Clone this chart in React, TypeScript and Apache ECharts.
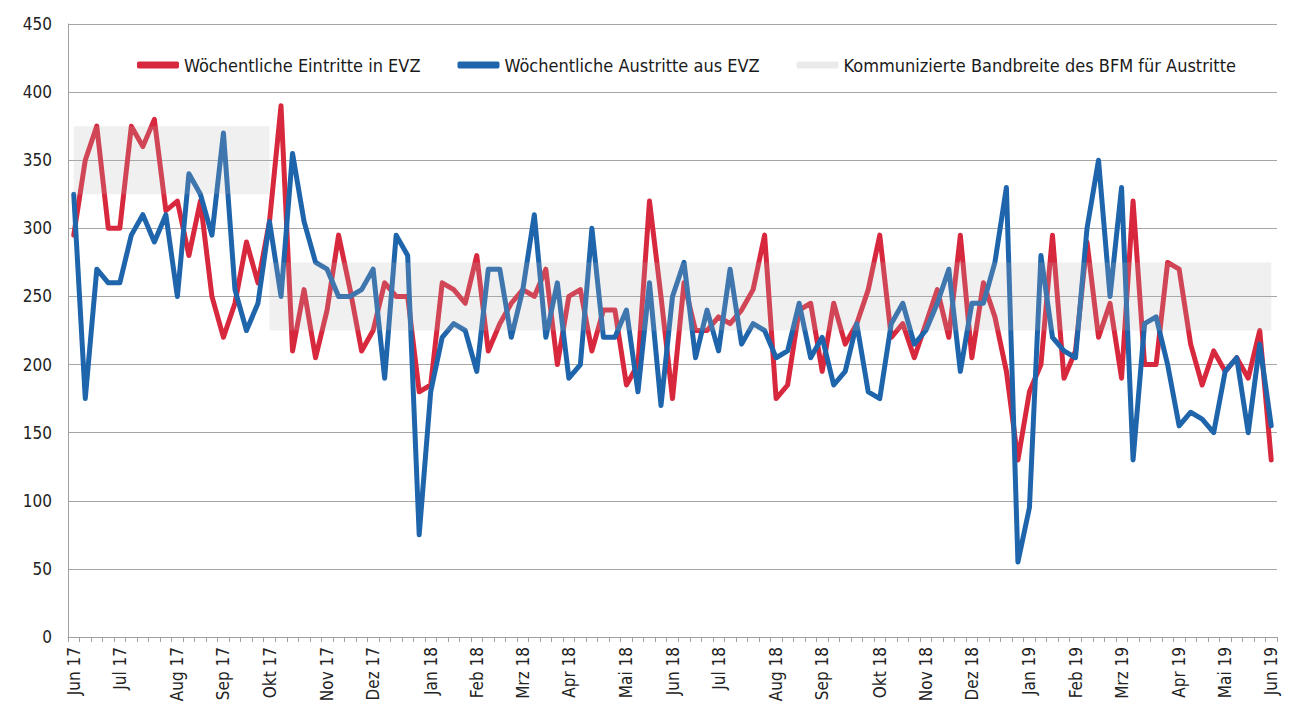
import React, { useEffect, useRef } from "react";
import * as echarts from "echarts";

// Weekly values, Jun 2017 – Jun 2019 (105 weeks)
const weeklyEintritte = [
  295, 350, 375, 300, 300, 375, 360, 380, 313, 320, 280, 320, 250, 220, 245, 290, 260, 305, 390, 210,
  255, 205, 240, 295, 255, 210, 225, 260, 250, 250, 180, 185, 260, 255, 245, 280, 210, 230, 245, 255,
  250, 270, 200, 250, 255, 210, 240, 240, 185, 200, 320, 250, 175, 260, 225, 225, 235, 230, 240, 255,
  295, 175, 185, 240, 245, 195, 245, 215, 230, 255, 295, 220, 230, 205, 230, 255, 220, 295, 205, 260,
  235, 195, 130, 180, 200, 295, 190, 210, 290, 220, 245, 190, 320, 200, 200, 275, 270, 215, 185, 210,
  195, 205, 190, 225, 130,
];
const weeklyAustritte = [
  325, 175, 270, 260, 260, 295, 310, 290, 310, 250, 340, 325, 295, 370, 255, 225, 245, 305, 250, 355,
  305, 275, 270, 250, 250, 255, 270, 190, 295, 280, 75, 180, 220, 230, 225, 195, 270, 270, 220, 255,
  310, 220, 260, 190, 200, 300, 220, 220, 240, 180, 260, 170, 250, 275, 205, 240, 210, 270, 215, 230,
  225, 205, 210, 245, 205, 220, 185, 195, 230, 180, 175, 230, 245, 215, 225, 245, 270, 195, 245, 245,
  275, 330, 55, 95, 280, 220, 210, 205, 300, 350, 250, 330, 130, 230, 235, 200, 155, 165, 160, 150,
  195, 205, 150, 215, 155,
];
const monthLabels = [
  "Jun 17", "Jul 17", "Aug 17", "Sep 17", "Okt 17", "Nov 17", "Dez 17", "Jan 18", "Feb 18", "Mrz 18",
  "Apr 18", "Mai 18", "Jun 18", "Jul 18", "Aug 18", "Sep 18", "Okt 18", "Nov 18", "Dez 18", "Jan 19",
  "Feb 19", "Mrz 19", "Apr 19", "Mai 19", "Jun 19",
];
const monthStartWeek = [0, 4, 9, 13, 17, 22, 26, 31, 35, 39, 43, 48, 52, 56, 61, 65, 70, 74, 78, 83, 87, 91, 96, 100, 104];
// communicated range: [fromWeek, toWeek, low, high]
const bandRanges = [
  [0, 17, 325, 375],
  [17, 104, 225, 275],
];
const yTicks = { min: 0, max: 450, interval: 50 };

const NAME_IN = "Wöchentliche Eintritte in EVZ";
const NAME_OUT = "Wöchentliche Austritte aus EVZ";
const NAME_BAND = "Kommunizierte Bandbreite des BFM für Austritte";

export default function App() {
  const ref = useRef<HTMLDivElement>(null);
  useEffect(() => {
    if (!ref.current) return;
    const chart = echarts.init(ref.current, null, { renderer: "svg" });
    const n = weeklyEintritte.length;
    const categories = Array.from({ length: n }, (_, i) => {
      const k = monthStartWeek.indexOf(i);
      return k >= 0 ? monthLabels[k] : "";
    });
    const font = "'Liberation Sans Narrow', 'DejaVu Sans Condensed', 'Open Sans', sans-serif";
    const bandColor = "rgba(185,185,185,0.3)";
    const bandSeries: any[] = [];
    bandRanges.forEach((r, bi) => {
      const [from, to, low, high] = r;
      const base = categories.map((_, i) => (i >= from && i <= to ? low : null));
      const h = categories.map((_, i) => (i >= from && i <= to ? high - low : null));
      bandSeries.push({
        name: "base" + bi,
        type: "line",
        stack: "band" + bi,
        data: base,
        symbol: "none",
        lineStyle: { width: 0, opacity: 0 },
        silent: true,
        z: 3,
      });
      bandSeries.push({
        name: NAME_BAND,
        type: "line",
        stack: "band" + bi,
        data: h,
        symbol: "none",
        color: bandColor,
        lineStyle: { width: 0, opacity: 0 },
        areaStyle: { color: bandColor },
        silent: true,
        z: 3,
      });
    });
    chart.setOption({
      animation: false,
      backgroundColor: "#ffffff",
      grid: { left: 68, right: 26, top: 24, bottom: 74, containLabel: false },
      legend: {
        data: [NAME_IN, NAME_OUT, NAME_BAND],
        left: 137,
        top: 56,
        icon: "roundRect",
        itemWidth: 42,
        itemHeight: 7,
        itemGap: 37,
        padding: 0,
        textStyle: { fontSize: 18, color: "#1a1a1a", fontFamily: font },
      },
      xAxis: {
        type: "category",
        data: categories,
        boundaryGap: true,
        axisLine: { lineStyle: { color: "#a0a0a0", width: 1 } },
        axisTick: { show: true, interval: 0, length: 5, lineStyle: { color: "#a0a0a0" } },
        axisLabel: {
          interval: 0,
          rotate: 90,
          fontSize: 17,
          color: "#222",
          fontFamily: font,
          margin: 10,
        },
        splitLine: { show: false },
      },
      yAxis: {
        type: "value",
        min: yTicks.min,
        max: yTicks.max,
        interval: yTicks.interval,
        axisLine: { show: true, lineStyle: { color: "#a0a0a0" } },
        axisTick: { show: false },
        axisLabel: { fontSize: 17, color: "#222", fontFamily: font, margin: 16 },
        splitLine: { lineStyle: { color: "#a6a6a6", width: 1 } },
      },
      series: [
        {
          name: NAME_IN,
          type: "line",
          data: weeklyEintritte,
          symbol: "none",
          color: "#D8283E",
          lineStyle: { width: 5, color: "#D8283E", join: "round", cap: "round" },
          z: 2,
        },
        {
          name: NAME_OUT,
          type: "line",
          data: weeklyAustritte,
          symbol: "none",
          color: "#1F65AC",
          lineStyle: { width: 5, color: "#1F65AC", join: "round", cap: "round" },
          z: 2,
        },
        ...bandSeries,
      ],
    });
    return () => chart.dispose();
  }, []);
  return (
    <div
      ref={ref}
      style={{ position: "fixed", left: 0, top: 0, width: 1303, height: 711, background: "#fff" }}
    />
  );
}
